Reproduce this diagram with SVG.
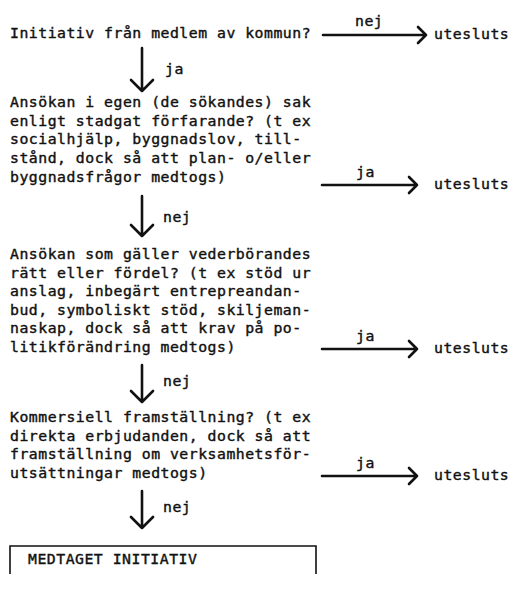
<svg xmlns="http://www.w3.org/2000/svg" width="516" height="603" viewBox="0 0 516 603">
<style>
text{font-family:"DejaVu Sans Mono","Liberation Mono",monospace;font-size:14.8px;letter-spacing:0.5px;fill:#111;stroke:#111;stroke-width:0.4px}
.ln{stroke:#111;stroke-width:2.6;fill:none;stroke-linecap:round;stroke-linejoin:round}
.bx{stroke:#111;stroke-width:1.6;fill:none}
</style>
<rect width="516" height="603" fill="#fff"/>
<g id="q1"><text x="10" y="38">Initiativ från medlem av kommun?</text></g>
<g id="q2"><text x="10" y="107">Ansökan i egen (de sökandes) sak</text><text x="10" y="125.7">enligt stadgat förfarande? (t ex</text><text x="10" y="144.4">socialhjälp, byggnadslov, till-</text><text x="10" y="163.1">stånd, dock så att plan- o/eller</text><text x="10" y="181.8">byggnadsfrågor medtogs)</text></g>
<g id="q3"><text x="10" y="259">Ansökan som gäller vederbörandes</text><text x="10" y="277.5">rätt eller fördel? (t ex stöd ur</text><text x="10" y="296">anslag, inbegärt entrepreandan-</text><text x="10" y="314.5">bud, symboliskt stöd, skiljeman-</text><text x="10" y="333">naskap, dock så att krav på po-</text><text x="10" y="351.5">litikförändring medtogs)</text></g>
<g id="q4"><text x="10" y="422">Kommersiell framställning? (t ex</text><text x="10" y="440.5">direkta erbjudanden, dock så att</text><text x="10" y="459">framställning om verksamhetsför-</text><text x="10" y="477.5">utsättningar medtogs)</text></g>
<g id="u1"><text x="434" y="39">utesluts</text></g>
<g id="u2"><text x="434" y="189">utesluts</text></g>
<g id="u3"><text x="434" y="353">utesluts</text></g>
<g id="u4"><text x="434" y="480">utesluts</text></g>
<g id="result"><path class="bx" d="M10 574 V546 H316 V574"/><text x="28" y="564">MEDTAGET INITIATIV</text></g>
<g id="connectors">
<path class="ln" d="M323 35 H426 M418 27 L426 35 L418 43"/>
<text x="355" y="26">nej</text>
<path class="ln" d="M142 48 V91 M131 80 L142 91 L153 80"/>
<text x="165" y="74">ja</text>
<path class="ln" d="M322 185 H417 M409 177 L417 185 L409 193"/>
<text x="356" y="177">ja</text>
<path class="ln" d="M142 196 V236 M131 225 L142 236 L153 225"/>
<text x="163" y="222">nej</text>
<path class="ln" d="M322 349 H417 M409 341 L417 349 L409 357"/>
<text x="356" y="341">ja</text>
<path class="ln" d="M142 365 V402 M131 391 L142 402 L153 391"/>
<text x="163" y="386">nej</text>
<path class="ln" d="M322 476 H417 M409 468 L417 476 L409 484"/>
<text x="356" y="468">ja</text>
<path class="ln" d="M142 491 V528 M131 517 L142 528 L153 517"/>
<text x="163" y="512">nej</text>
</g>
</svg>
